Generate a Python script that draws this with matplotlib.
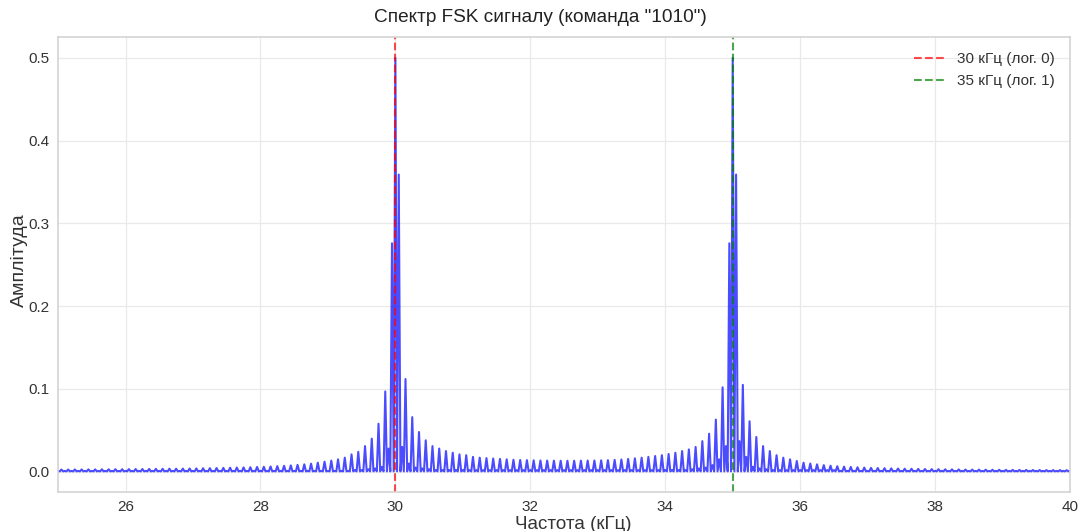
import numpy as np
import matplotlib
matplotlib.use("Agg")
import matplotlib.pyplot as plt

# ---------------- data ----------------
f_start, f_step = 25.0, 0.025         # spectrum bin grid in kHz
f_tone0, f_tone1 = 30.0, 35.0         # marker lines

# side-lobe peaks at bins x.x5: 25.05 ... 29.85
peaks_left = [0.0027, 0.0027, 0.0028, 0.0028, 0.0029, 0.0029, 0.0030, 0.0030, 0.0031, 0.0031,
              0.0032, 0.0033, 0.0033, 0.0034, 0.0035, 0.0036, 0.0037, 0.0037, 0.0038, 0.0039,
              0.0040, 0.0042, 0.0043, 0.0045, 0.0047, 0.0049, 0.0051, 0.0053, 0.0055, 0.0058,
              0.0060, 0.0064, 0.0068, 0.0072, 0.0077, 0.0083, 0.0090, 0.0098, 0.0110, 0.0122,
              0.0135, 0.0150, 0.0170, 0.0210, 0.0240, 0.0310, 0.0400, 0.0580, 0.0970]
# main lobe bins x.x5 next to each carrier (fc-0.05, fc+0.05)
main_side = [0.276, 0.359]
# peaks 30.15 ... 34.85
peaks_mid = [0.112, 0.066, 0.048, 0.038, 0.031, 0.028, 0.025, 0.023, 0.021, 0.020,
             0.0180, 0.0170, 0.0165, 0.0160, 0.0155, 0.0150, 0.0145, 0.0142, 0.0140, 0.0138,
             0.0136, 0.0135, 0.0134, 0.0133, 0.0133, 0.0133, 0.0134, 0.0135, 0.0136, 0.0138,
             0.0140, 0.0143, 0.0148, 0.0155, 0.0162, 0.0170, 0.0180, 0.0190, 0.0200, 0.0215,
             0.0230, 0.0250, 0.0270, 0.0300, 0.0370, 0.0460, 0.0630, 0.1020]
# peaks 35.15 ... 39.95
peaks_right = [0.105, 0.061, 0.042, 0.031, 0.025, 0.020, 0.017, 0.015, 0.013, 0.011,
               0.0100, 0.0090, 0.0080, 0.0073, 0.0067, 0.0062, 0.0058, 0.0054, 0.0050,
               0.0047, 0.0045, 0.0043, 0.0041, 0.0039, 0.0037, 0.0036, 0.0034, 0.0033, 0.0032,
               0.0031, 0.0030, 0.0029, 0.0028, 0.0027, 0.0026, 0.0026, 0.0025, 0.0024, 0.0024,
               0.0023, 0.0023, 0.0022, 0.0022, 0.0021, 0.0021, 0.0020, 0.0020, 0.0020, 0.0019]
# small bumps at bins x.x0
bumps_left = [0.001] * 44 + [0.002, 0.002, 0.003, 0.004, 0.006]             # 25.0 ... 29.8
main0 = [0.028, 0.500, 0.030]                                                  # 29.9, 30.0, 30.1
bumps_mid = [0.010, 0.005, 0.004, 0.003] + [0.002] * 38 + [0.003, 0.004, 0.005, 0.008, 0.015]  # 30.2 ... 34.8
main1 = [0.031, 0.500, 0.037]                                                  # 34.9, 35.0, 35.1
bumps_right = [0.018, 0.006, 0.004, 0.003] + [0.002] * 10 + [0.001] * 35     # 35.2 ... 40.0
floor_amp = 0.0005                                                             # bins x.x25 / x.x75

legend_labels = ["30 кГц (лог. 0)", "35 кГц (лог. 1)"]
title = 'Спектр FSK сигналу (команда "1010")'
xlabel = "Частота (кГц)"
ylabel = "Амплітуда"
xticks = [26, 28, 30, 32, 34, 36, 38, 40]

peaks = peaks_left + main_side + peaks_mid + main_side + peaks_right
bumps = bumps_left + main0 + bumps_mid + main1 + bumps_right
amp = []
for b, p in zip(bumps, peaks):
    amp += [b, floor_amp, p, floor_amp]
amp.append(bumps[-1])
amp = np.array(amp, dtype=float)
freqs = f_start + f_step * np.arange(len(amp))

# ---------------- plot ----------------
plt.rcParams['font.family'] = ['Liberation Sans', 'DejaVu Sans']
fig = plt.figure(figsize=(10.79, 5.31), dpi=100)
ax = fig.add_axes([0.0538, 0.0734, 0.9379, 0.8566])

ax.plot(freqs, amp, color='blue', alpha=0.7, linewidth=1.5)
ax.axvline(f_tone0, color='red', linestyle='--', alpha=0.7, linewidth=1.5, label=legend_labels[0])
ax.axvline(f_tone1, color='green', linestyle='--', alpha=0.7, linewidth=1.5, label=legend_labels[1])

ax.set_xlim(25, 40)
ax.set_xticks(xticks)
fig.text(540 / 1079, 1 - 18 / 531, title, fontsize=13.7, color='#222222', ha='center', va='center')
ax.set_xlabel(xlabel, fontsize=13.5, color='#333333')
ax.xaxis.set_label_coords((573 - 58) / (1070 - 58), -0.052)
ax.xaxis.label.set_va('top')
ax.set_ylabel(ylabel, fontsize=14, color='#333333')
ax.yaxis.set_label_coords(-0.03, (492 - 260) / (492 - 37))
ax.grid(True, color='#e9e9e9', linewidth=0.9)
ax.set_axisbelow(True)
for s in ax.spines.values():
    s.set_color('#d4d4d4')
    s.set_linewidth(1.2)
ax.tick_params(axis='both', labelsize=11, colors='#333333', length=0, pad=6)
leg = ax.legend(loc='upper right', frameon=False, fontsize=11, borderaxespad=0.6)
for t in leg.get_texts():
    t.set_color('#333333')

fig.savefig("out.png", dpi=100)
